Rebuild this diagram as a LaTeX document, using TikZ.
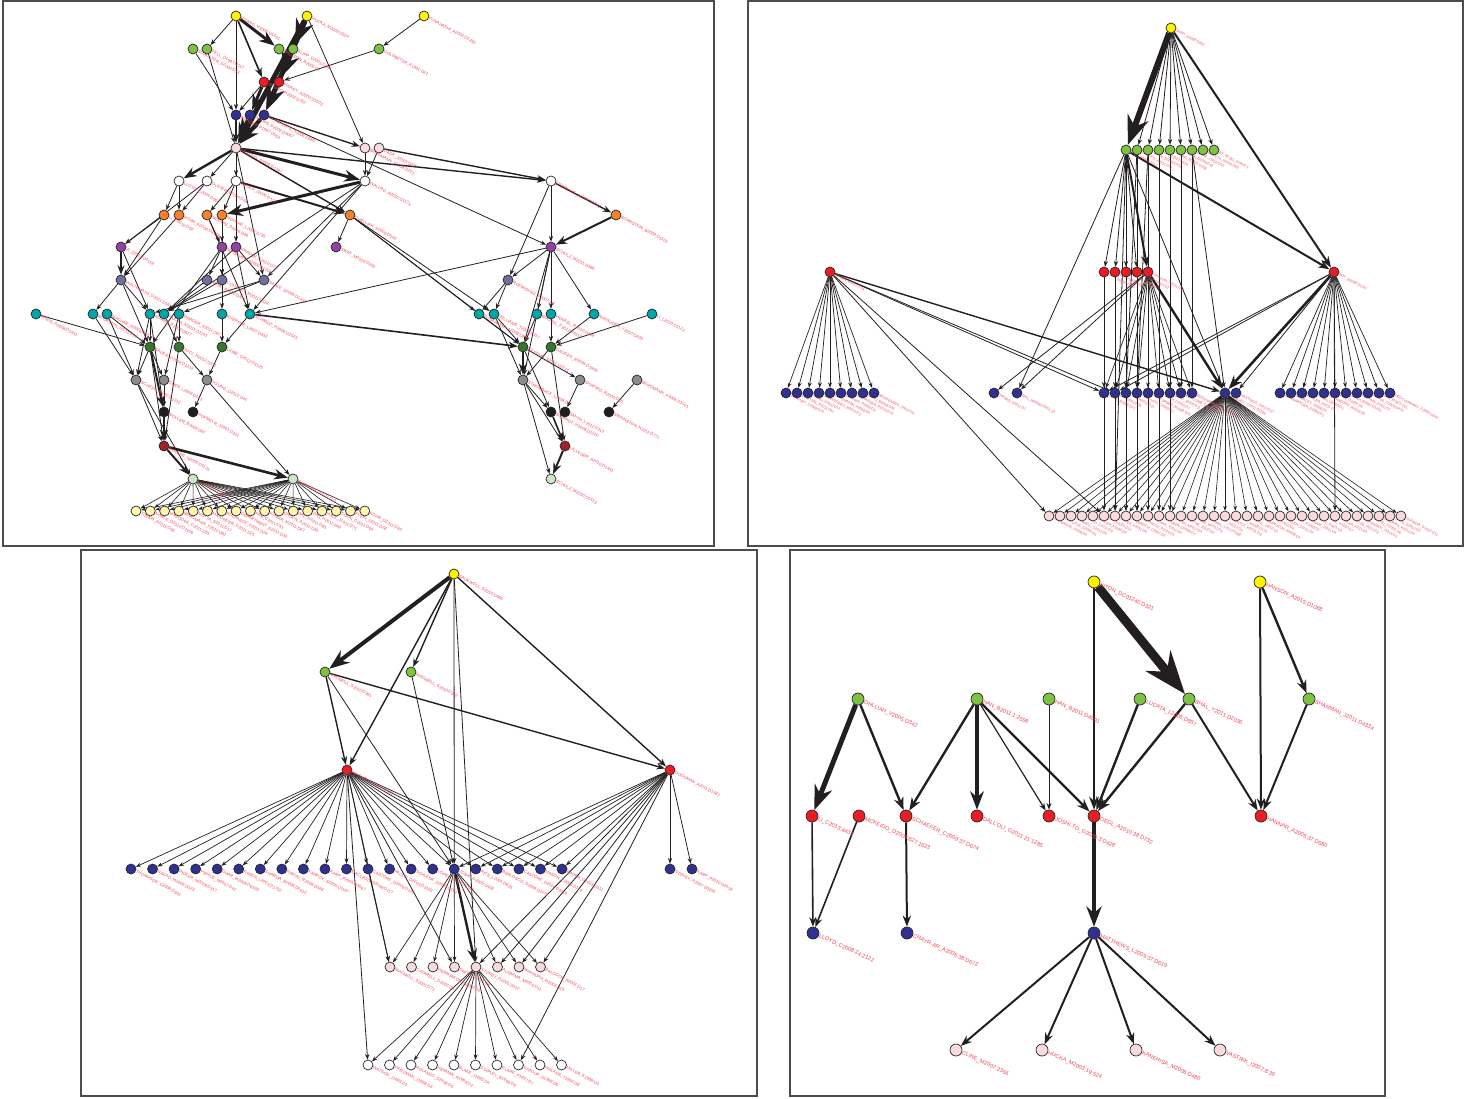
\documentclass[tikz,border=0pt]{standalone}
\usepackage{fontspec}
\setsansfont{Liberation Sans}
\usetikzlibrary{arrows.meta}
\pgfdeclarelayer{bg}
\pgfsetlayers{bg,main}

\definecolor{nylw}{RGB}{255,242,0}
\definecolor{ngrn}{RGB}{125,194,66}
\definecolor{nred}{RGB}{237,28,36}
\definecolor{nblu}{RGB}{46,49,146}
\definecolor{npnk}{RGB}{250,218,221}
\definecolor{nora}{RGB}{245,130,42}
\definecolor{npur}{RGB}{142,68,160}
\definecolor{nsla}{RGB}{112,112,160}
\definecolor{ntea}{RGB}{0,166,166}
\definecolor{ndgr}{RGB}{52,120,45}
\definecolor{ngry}{RGB}{140,140,140}
\definecolor{nblk}{RGB}{30,30,30}
\definecolor{ndrd}{RGB}{163,35,43}
\definecolor{nlgr}{RGB}{205,230,195}
\definecolor{nlyl}{RGB}{255,245,175}
\definecolor{labc}{RGB}{240,70,90}
\definecolor{edgc}{RGB}{35,31,32}

\tikzset{
  nd/.style={circle, draw=black!85, line width=0.35mm, inner sep=0pt, minimum size=5mm},
  ndL/.style={nd, minimum size=6mm},
  ed/.style={-{Stealth}, draw=edgc, line width=#1},
  ed/.default=0.4mm,
  frame/.style={draw=black!70, line width=0.7mm},
  lbl/.style={anchor=west, text=labc, inner sep=0.5pt},
  lblA/.style={lbl, rotate=-28, font=\sffamily\fontsize{6}{6}\selectfont},
  lblB/.style={lbl, rotate=-28, font=\sffamily\fontsize{5}{5}\selectfont},
  lblC/.style={lbl, rotate=-28, font=\sffamily\fontsize{6}{6}\selectfont},
  lblD/.style={lbl, rotate=-25, font=\sffamily\fontsize{8}{8}\selectfont},
}

\begin{document}
\begin{tikzpicture}[x=0.5mm, y=-0.5mm]
\useasboundingbox (0,0) rectangle (1469,1099);

%%%%% FRAMES %%%%%
\draw[frame] (3,1) rectangle (714,546);
\draw[frame] (748,1) rectangle (1463,546);
\draw[frame] (81,550) rectangle (757,1096);
\draw[frame] (790,550) rectangle (1385,1096);

%%%%% PANEL A (top left) %%%%%
\foreach \n/\x/\t in {ay1/236/KITANO\_H2005:D1201, ay2/307/HUCKA\_M2003:D524, ay3/424/FUNAHASHI\_A2003:D1450}
  \node[nd, fill=nylw, label={[lblA]-28:\t}] (\n) at (\x,16) {};
\foreach \n/\x/\t in {ag1/193/SCHUSTER\_S2000:D33, ag2/207/FELL\_D1997:D117, ag3/279/PALSSON\_B2000:D2, ag4/293/KLIPP\_E2005:D144, ag5/379/GOLDBETER\_A1991:D21}
  \node[nd, fill=ngrn, label={[lblA]-28:\t}] (\n) at (\x,49) {};
\foreach \n/\x/\t in {ar1/264/SAURO\_H2004:D792, ar2/279/FINNEY\_A2003:D1502}
  \node[nd, fill=nred, label={[lblA]-28:\t}] (\n) at (\x,82) {};
\foreach \n/\x/\t in {ab1/236/MENDES\_P1997:D563, ab2/250/HOOPS\_S2006:D3067, ab3/264/LE\_NOVERE\_N2006:D689}
  \node[nd, fill=nblu, label={[lblA]-28:\t}] (\n) at (\x,115) {};
\foreach \n/\x/\t in {ap1/236/KEATING\_S2006:D1287, ap2/365/BERGMANN\_F2008:D221, ap3/379/DADA\_J2010:D285}
  \node[nd, fill=npnk, label={[lblA]-28:\t}] (\n) at (\x,148) {};
\foreach \n/\x/\t in {aw1/179/LLOYD\_C2004:D902, aw2/207/OLIVIER\_B2004:D48, aw3/236/SNOEP\_J2006:D112, aw4/365/WALLRO\_R2010:D1175, aw5/551/KREMLING\_A2006:D1041}
  \node[nd, fill=white, label={[lblA]-28:\t}] (\n) at (\x,181) {};
\foreach \n/\x/\t in {ao1/164/LI\_C2010:D92, ao2/179/KOHN\_K2006:D4118, ao3/207/MOODIE\_S2006:D46, ao4/222/NOVERE\_L2009:D735, ao5/350/CHELLIAH\_V2009:D542, ao6/616/BORNSTEIN\_B2008:D1101}
  \node[nd, fill=nora, label={[lblA]-28:\t}] (\n) at (\x,215) {};
\foreach \n/\x/\t in {au1/121/ZI\_Z2011:D4119, au2/222/MIRSCHEL\_S2009:D1209, au3/236/KRAUSE\_F2010:D72, au4/336/SWAT\_M2010:D255, au5/551/SCHULZ\_M2011:D389}
  \node[nd, fill=npur, label={[lblA]-28:\t}] (\n) at (\x,247) {};
\foreach \n/\x/\t in {as1/121/WALTEMATH\_D2011:D18, as2/207/KOHL\_P2010:D351, as3/222/COURTOT\_M2011:D524, as4/264/SAHLE\_S2006:D1431, as5/508/RODRIGUEZ\_N2007:D8}
  \node[nd, fill=nsla, label={[lblA]-28:\t}] (\n) at (\x,280) {};
\foreach \n/\x/\t in {at1/36/KREIS\_A2008:D1451, at2/93/BOURDON\_J2011:D22, at3/107/MACHNE\_R2006:D451, at4/150/ADAMS\_R2009:D617, at5/164/HUCKA\_M2011:D1141, at6/179/DRAGER\_A2011:D67, at7/222/KUEPFER\_L2007:D332, at8/250/SCHMIDT\_H2006:D1543, at9/479/FUNAHASHI\_A2008:D211, at10/494/WILLIAMS\_T2009:D317, at11/537/BUCHEL\_F2012:D4112, at12/551/HENKEL\_R2010:D108, at13/594/MATSUOKA\_Y2010:D209, at14/652/LI\_L2010:D1122}
  \node[nd, fill=ntea, label={[lblA]-28:\t}] (\n) at (\x,314) {};
\foreach \n/\x/\t in {ad1/150/SAUER\_U2004:D1233, ad2/179/JUTY\_N2012:D311, ad3/222/LAIBE\_C2012:D3125, ad4/523/KEATING\_S2011:D1241, ad5/551/GAUGES\_R2006:D1909}
  \node[nd, fill=ndgr, label={[lblA]-28:\t}] (\n) at (\x,347) {};
\foreach \n/\x/\t in {aq1/136/SCHAFF\_J2010:D1212, aq2/164/CHEN\_L2009:D122, aq3/207/YOUNG\_D2012:D44, aq4/523/STROMBACK\_L2006:D7, aq5/580/SHAPIRO\_B2004:D35, aq6/637/BERGMANN\_F2006:D1201}
  \node[nd, fill=ngry, label={[lblA]-28:\t}] (\n) at (\x,380) {};
\foreach \n/\x/\t in {ak1/164/MOLLER\_B2009:D97, ak2/193/HOFMEYR\_J2003:D321, ak3/551/SCHMIDT\_H2008:D1210, ak4/565/SMITH\_L2011:D412, ak5/609/SWAINSTON\_N2011:D771}
  \node[nd, fill=nblk, label={[lblA]-28:\t}] (\n) at (\x,412) {};
\foreach \n/\x/\t in {ax1/164/NOVERE\_N2005:D1131, ax2/565/VILLEGER\_A2010:D1451}
  \node[nd, fill=ndrd, label={[lblA]-28:\t}] (\n) at (\x,446) {};
\foreach \n/\x/\t in {al1/193/LI\_C2010:D1822, al2/293/CHELLIAH\_V2011:D11, al3/551/SCHULZ\_M2010:D1413}
  \node[nd, fill=nlgr, label={[lblA]-28:\t}] (\n) at (\x,479) {};
\foreach \i/\t in {1/TIWARI\_A2011:D56, 2/NOBLE\_D2012:D1106, 3/WRZODEK\_C2011:D91, 4/BERGMANN\_F2011:D82, 5/MOTTA\_S2011:D17, 6/MAJUMDER\_D2011:D21, 7/KOLPAKOV\_F2011:D24, 8/DEPARTMENT\_K2011:D33, 9/FAN\_C2011:D51, 10/KUMAR\_M2011:D47, 11/ERGUN\_A2011:D35, 12/BAL\_H2011:D95, 13/ZHU\_H2011:D42, 14/HALE\_J2011:D71, 15/COOK\_D2011:D64, 16/KLEIN\_J2011:D28, 17/KOHN\_D2011:D39}
  \node[nd, fill=nlyl, label={[lblA]-28:\t}] (am\i) at ({136+14.3*(\i-1)},511) {};

\begin{pgfonlayer}{bg}
\foreach \a/\b in {ay1/ag2, ay1/ab1, ay2/ap2, ay3/ag5, ag5/ar2, ag2/ap1, ag1/ab1, ar1/ab1,
  ab3/au5, ap1/aw2, ap1/aw3, ap1/au3, ap1/as4, ap2/aw4, ap3/aw4, aw5/au5, aw5/as5,
  aw1/ao1, aw1/ao2, aw2/ao2, aw2/au1, aw3/ao4, aw3/ao3, aw4/at5, aw4/at8, aw4/as4,
  ao5/au4, ao5/at9, ao5/at10, ao5/ad4, ao1/au1, ao1/as1, ao2/as1, ao3/au2, ao4/au2,
  ao4/as3, ao4/at7, ao3/at8, au1/at4, au2/as2, au2/as3, au3/as4, au3/at8, au3/at5, au2/ad1,
  as1/at2, as1/at4, as1/ad1, as2/at5, as3/at5, as4/at4, as4/at6, as5/at9, as5/at10,
  au5/as5, au5/at11, au5/at12, au5/at13, au5/ad4, au5/aq4, au5/at8,
  at1/ad1, at2/aq1, at3/aq1, at4/ad1, at4/aq1, at5/ad2, at6/ad2, at7/ad3, at8/ad3,
  at3/ad1, at6/aq2, at4/ak1, at9/ad4, at10/ad4, at11/ad4, at12/ad5, at13/ad5, at14/ad5,
  at10/aq4, ad1/aq1, ad1/aq2, ad2/aq3, ad3/aq3, ad2/ax1, ad1/ax1, aq1/ax1, aq1/al1,
  aq2/ak1, aq3/ak2, aq3/al2, ad4/ak3, ad5/aq4, aq4/ak3, aq4/al3, aq5/ak4, aq6/ak5,
  ad4/aq5, ad5/ax2, aq4/ax2}
  \draw[ed] (\a) -- (\b);
\foreach \a/\b/\w in {ay1/ar1/0.8, ab1/ap1/0.8, ab3/ap2/0.7, ap1/aw1/1.2, ap1/aw5/0.7,
  ap1/ao5/0.7, ap3/aw5/0.7, aw3/ao5/1, aw5/ao6/0.7, ao6/au5/1, au1/as1/0.8, at8/ad4/0.8,
  ad1/ak1/1, ak1/ax1/1, ax1/al1/1, ad4/aq4/1, ax2/al3/1, ak3/ax2/0.8,
  ay1/ag3/1.5, ay2/ag4/2.5, ay2/ar2/2.5, ay2/ab3/2.5, ay2/ap1/2.5, ar1/ab2/1.5,
  ar2/ab3/1.5, ab2/ap1/2, ab3/ap1/2, ap1/aw4/1.5, aw4/ao4/1.5, ax1/al2/1.3}
  \draw[ed=\w mm] (\a) -- (\b);
\foreach \i in {1,...,17} {
  \draw[ed=0.3mm] (al1) -- (am\i);
  \draw[ed=0.3mm] (al2) -- (am\i);
}
\end{pgfonlayer}

%%%%% PANEL B (top right) %%%%%
\node[nd, fill=nylw, label={[lblB]-28:SHAH\_N2009:D392}] (by) at (1171,28) {};
\foreach \i/\t in {1/WU\_C2009:D1312, 2/CASTRO\_A2011:D71, 3/SMITH\_B2008:D211, 4/LIU\_T2010:D319, 5/HARRIS\_M2004:D258, 6/RUBIN\_D2008:D41, 7/BLAKE\_J2010:D12, 8/EILBECK\_K2005:D62, 9/BY\_NCBO\_STRUCT}
  \node[nd, fill=ngrn, label={[lblB]-28:\t}] (bg\i) at ({1126+11*(\i-1)},150) {};
\node[nd, fill=nred, label={[lblB]-28:MUSEN\_M2012:D35}] (br0) at (830,272) {};
\foreach \i/\t in {1/NOY\_N2003:D117, 2/LUI\_Y2009:D31, 3/TUDOR\_C2008:D21, 4/BODEN\_O2007:D1, 5/GHAZVIN\_A2011:D45}
  \node[nd, fill=nred, label={[lblB]-28:\t}] (br\i) at ({1104+11*(\i-1)},272) {};
\node[nd, fill=nred, label={[lblB]-28:NOY\_N2009:D1287}] (br6) at (1334,272) {};
\foreach \i/\t in {1/JONQUET\_C2009:D19, 2/WHETZEL\_P2011:D41, 3/XIANG\_Z2010:D12, 4/SALVADORES\_M2012:D3, 5/GHAZVINIAN\_A2009:D5, 6/LAMBRIX\_P2006:D8, 7/ALEXANDER\_P2010:D76, 8/GRAU\_B2008:D26, 9/MORTENSEN\_J2012:D9}
  \node[nd, fill=nblu, label={[lblB]-28:\t}] (bl\i) at ({786+11*(\i-1)},393) {};
\node[nd, fill=nblu, label={[lblB]-28:TIRMIZI\_S2011:D1}] (bm1) at (994,393) {};
\node[nd, fill=nblu, label={[lblB]-28:BAIL\_W2008:D3051:19}] (bm2) at (1017,393) {};
\foreach \i/\t in {1/COTE\_R2006:D71, 2/DAI\_M2010:D4, 3/TAN\_H2011:D31, 4/PESQUITA\_C2009:D2, 5/ASHBURNER\_M2000:D25, 6/SMITH\_C2005:D7, 7/BARD\_J2005:D11, 8/LIPSCOMB\_C2000:D88, 9/BODENREIDER\_O2004:D267}
  \node[nd, fill=nblu, label={[lblB]-28:\t}] (bc\i) at ({1104+11*(\i-1)},393) {};
\node[nd, fill=nblu, label={[lblB]-28:MUNGALL\_C2011:D1108}] (bh1) at (1225,393) {};
\node[nd, fill=nblu, label={[lblB]-28:HASTINGS\_J2012:D47}] (bh2) at (1236,393) {};
\foreach \i/\t in {1/BEISSWANGER\_E2008:D1, 2/BRINKLEY\_J2006:D3, 3/KOHLER\_S2011:D5, 4/WANG\_Q2009:D2, 5/HOEHNDORF\_R2010:D6, 6/HILL\_D2008:D4, 7/SMITH\_B2007:D1251, 8/OUYANG\_Z2011:D7, 9/ROSSE\_C2003:D478, 10/DAY\_M2011:D11, 11/DEGTYARENKO\_K2008:D344}
  \node[nd, fill=nblu, label={[lblB]-28:\t}] (bq\i) at ({1280+11*(\i-1)},393) {};
\foreach \i/\t in {1/ANDERSON\_J2008:D2, 2/GKOUTOS\_G2005:D1, 3/MUNGALL\_C2012:D5, 4/SMITH\_C2012:D9, 5/BAADER\_F2004:D3, 6/LIU\_K2012:D14, 7/COHEN\_K2011:D6, 8/GOLBREICH\_C2007:D2, 9/DE\_MATOS\_P2010:D1, 10/MEEHAN\_T2011:D4, 11/SCHOBER\_D2009:D7, 12/BRUSH\_M2012:D3, 13/MALONE\_J2010:D2, 14/KIBBE\_W2011:D8, 15/SCHRIML\_L2012:D940, 16/JUPP\_S2012:D5, 17/COURTOT\_M2011:D9, 18/NOY\_N2006:D170, 19/ZHENG\_J2012:D1, 20/WASHINGTON\_N2009:D3, 21/HE\_Y2010:D6, 22/MOLLER\_S2012:D2, 23/TEXT\_F2009:D1, 24/GENNARI\_J2011:D5, 25/SEITZ\_F2011:D3, 26/LAGE\_K2010:D7, 27/SARKAR\_I2011:D4, 28/TUDOSE\_I2013:D8, 29/MORTENSEN\_J2013:D2, 30/HARTEL\_F2005:D6, 31/WILLIAMS\_A2012:D4, 32/JIANG\_G2012:D3, 33/GUARDIA\_G2013:D11}
  \node[nd, fill=npnk, label={[lblB]-28:\t}] (bp\i) at ({1049+11*(\i-1)},516) {};

\begin{pgfonlayer}{bg}
\foreach \a/\b in {by/bg2, by/bg3, by/bg4, by/bg5, by/bg6, by/bg7, by/bg8, by/bg9,
  bg1/br1, bg1/br2, bg1/br3, bg1/br4, bg1/bm2, bg1/bh1, bg1/bp7, bg1/bp8, bg2/bp9,
  bg3/bp10, bg4/bp11, bg5/bp12, bg5/bc7, bg6/bc8, bg7/bc9, bg7/bh1, bg2/bc3, bg3/bc4,
  br5/bm1, br5/bm2, br1/bc1, br2/bc2, br3/bc3, br4/bc4, br1/bp6, br2/bp7, br3/bp8, br4/bp9,
  br0/bc1, br0/bc2, br0/bp1, br0/bp6, br6/bh2, br6/bc1, br6/bc2, br6/bp27}
  \draw[ed] (\a) -- (\b);
\foreach \a/\b/\w in {by/bg1/3, by/br6/1, bg1/br5/1, bg1/br6/1, br5/bh1/1.2, br0/bh1/0.7, br6/bh1/1.3}
  \draw[ed=\w mm] (\a) -- (\b);
\foreach \i in {1,...,9} {
  \draw[ed=0.35mm] (br0) -- (bl\i);
  \draw[ed=0.35mm] (br5) -- (bc\i);
}
\foreach \i in {1,...,11}
  \draw[ed=0.35mm] (br6) -- (bq\i);
\foreach \i in {1,...,33}
  \draw[ed=0.3mm] (bh1) -- (bp\i);
\end{pgfonlayer}

%%%%% PANEL C (bottom left) %%%%%
\node[nd, fill=nylw, label={[lblC]-28:SADEWOLL\_S2010:D486}] (cy) at (454,574) {};
\node[nd, fill=ngrn, label={[lblC]-28:MACNEILL\_S2010:D361}] (cg1) at (325,672) {};
\node[nd, fill=ngrn, label={[lblC]-28:MACNEILL\_S2010:D362}] (cg2) at (411,672) {};
\node[nd, fill=nred, label={[lblC]-28:MACNEILL\_S2011:D121}] (cr1) at (347,770) {};
\node[nd, fill=nred, label={[lblC]-28:GOODMAN\_A2011:D1387}] (cr2) at (670,770) {};
\foreach \i/\t in {1/THOMPSON\_C2008:D361, 2/NAKAO\_M2009:D523, 3/PICKER\_M2009:D317, 4/PIERCE\_M2007:D41, 5/DHAR\_M2008:D6109, 6/KANDA\_L2003:D1752, 7/SHARMA\_B2008:D4612, 8/KRIVAY\_R2006:D548, 9/KARPOV\_S2005:D1187, 10/KARP\_P2005:D3067, 11/MACLEOD\_S2008:D117, 12/CASTORE\_D2006:D125, 13/PAOLO\_D2003:D3105, 14/SCHLENK\_D2009:D114, 15/LOPEZ\_I2007:D5122, 16/JOSHI\_G2005:D428, 17/RICE\_L2004:D625, 18/BERLOSCO\_S2009:D1279, 19/CASTORE\_D2010:D2019, 20/MASON\_C2008:D176, 21/BADER\_G2003:D311, 22/STOVEY\_A2007:D5105, 23/KARP\_P2010:D2019}
  \node[nd, fill=nblu, label={[lblC]-28:\t}] (cb\i) at ({\i<22 ? 131+21.55*(\i-1) : 670+22*(\i-22)},869) {};
\foreach \i/\t in {1/MACNEILL\_S2001:D71, 2/CATARELL\_D2000:D5, 3/HERMJAKOB\_H2004:D9, 4/SMITH\_C2004:D8, 5/STONEY\_A2005:D512, 6/ALABAMA\_M2004:D11, 7/MAHADRA\_M2003:D15, 8/BALDOCK\_R2003:D17}
  \node[nd, fill=npnk, label={[lblC]-28:\t}] (cp\i) at ({390+21.5*(\i-1)},967) {};
\foreach \i/\t in {1/WATSON\_J1993:D1, 2/FRIEDMAN\_J1998:D3, 3/ROLANDO\_S1996:D5, 4/HERMAN\_R1999:D2, 5/BLAKE\_J1995:D4, 6/STAPLEY\_B1998:D9, 7/CLARK\_P1997:D7, 8/STROUP\_D1999:D6, 9/WALKER\_T1994:D8, 10/MILLER\_K1998:D3}
  \node[nd, fill=white, label={[lblC]-28:\t}] (cw\i) at ({368+21.5*(\i-1)},1065) {};

\begin{pgfonlayer}{bg}
\foreach \a/\b in {cy/cb16, cy/cp5, cg1/cb16, cg2/cb16, cr1/cp1, cr1/cp4, cr1/cw1,
  cr2/cp5, cr2/cp6, cr2/cp7, cr2/cp8, cr2/cw8, cr2/cb22, cr2/cb23, cb12/cp1}
  \draw[ed] (\a) -- (\b);
\foreach \a/\b/\w in {cy/cg1/2, cy/cg2/0.7, cy/cr1/0.7, cy/cr2/0.7, cg1/cr1/0.7, cg1/cr2/0.7, cb16/cp5/1.2}
  \draw[ed=\w mm] (\a) -- (\b);
\foreach \i in {1,...,21}
  \draw[ed=0.35mm] (cr1) -- (cb\i);
\foreach \i in {16,...,21}
  \draw[ed=0.35mm] (cr2) -- (cb\i);
\foreach \i in {1,2,3,4,6,7,8}
  \draw[ed=0.35mm] (cb16) -- (cp\i);
\foreach \i in {1,...,10}
  \draw[ed=0.35mm] (cp5) -- (cw\i);
\end{pgfonlayer}

%%%%% PANEL D (bottom right) %%%%%
\node[ndL, fill=nylw, label={[lblD]-25:KITON\_DC01240:D321}] (dy1) at (1094,582) {};
\node[ndL, fill=nylw, label={[lblD]-25:HANSON\_A2015:D1088}] (dy2) at (1260,582) {};
\foreach \n/\x/\t in {dg1/858/OHLLIAH\_V2005:D342, dg2/977/HAN\_B2011:1:2598, dg3/1049/HAN\_B2011:D4591, dg4/1140/LUCATA\_L2005:D857, dg5/1189/BHAL\_Y2011:D2036, dg6/1309/SHARMAN\_J2011:D4334}
  \node[ndL, fill=ngrn, label={[lblD]-25:\t}] (\n) at (\x,699) {};
\foreach \n/\x/\t in {dr1/812/LI\_C2013:4432, dr2/859/MCKEIGO\_D2009:827:1623, dr3/906/SCHAEFER\_C2009:37:D674, dr4/977/DALL'OLI\_G2011:21:1285, dr5/1049/JOSHI-TO\_G2009:3:D428, dr6/1094/OEDL\_A2010:38:D732, dr7/1261/HANNAR\_A2005:37:D680}
  \node[ndL, fill=nred, label={[lblD]-25:\t}] (\n) at (\x,816) {};
\foreach \n/\x/\t in {db1/813/LLOYD\_C2008:24:2122, db2/907/CHAYR-AR\_A2005:38:D672, db3/1094/MATTHEWS\_L2009:37:D619}
  \node[ndL, fill=nblu, label={[lblD]-25:\t}] (\n) at (\x,933) {};
\foreach \n/\x/\t in {dp1/956/CLINE\_M2007:2366, dp2/1042/HUCKA\_M2003:19:524, dp3/1136/KANEHISA\_M2006:D480, dp4/1220/VASTRIK\_I2007:8:39}
  \node[ndL, fill=npnk, label={[lblD]-25:\t}] (\n) at (\x,1050) {};

\begin{pgfonlayer}{bg}
\foreach \a/\b/\w in {dy1/dg5/4.5, dy1/dr6/1.2, dy2/dr7/1, dy2/dg6/1.2, dg1/dr1/2.5,
  dg1/dr3/1.2, dg2/dr3/1.2, dg2/dr4/1.8, dg2/dr5/0.6, dg2/dr6/1.2, dg3/dr5/0.5,
  dg4/dr6/1.2, dg5/dr6/1.2, dg5/dr7/1, dg6/dr7/1, dr1/db1/0.8, dr2/db1/0.8,
  dr3/db2/1, dr6/db3/2, db3/dp1/1, db3/dp2/1, db3/dp3/1, db3/dp4/1}
  \draw[ed=\w mm] (\a) -- (\b);
\end{pgfonlayer}

\end{tikzpicture}
\end{document}
